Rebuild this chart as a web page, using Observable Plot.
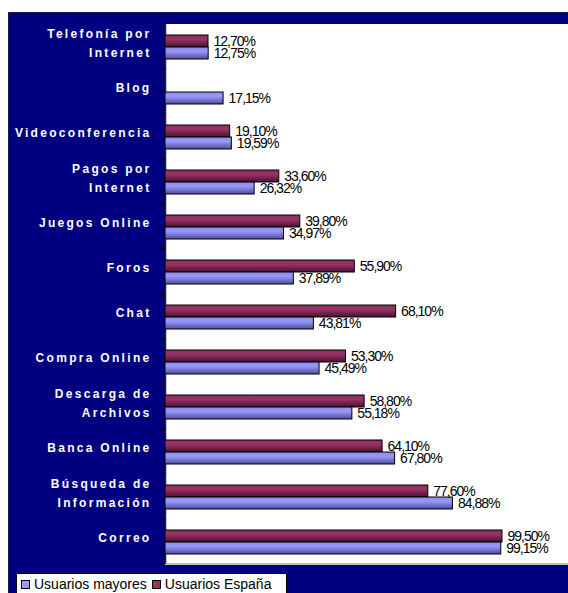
<!DOCTYPE html>
<html>
<head>
<meta charset="utf-8">
<script src="https://cdn.jsdelivr.net/npm/d3@7"></script>
<script src="https://cdn.jsdelivr.net/npm/@observablehq/plot@0.6"></script>
<style>
  html, body { margin: 0; padding: 0; background: #ffffff; }
  #page { position: relative; width: 568px; height: 593px; overflow: hidden; font-family: "Liberation Sans", Arial, sans-serif; }
  #navy { position: absolute; left: 8px; top: 12px; width: 560px; height: 581px; background: #000080; box-sizing: border-box; border-left: 1px solid #1a1a3a; border-top: 1px solid #1a1a3a; }
  #chart { position: absolute; left: -1px; top: -1px; }
  #legend { position: absolute; left: 16px; top: 573px; width: 271px; height: 30px; background: #fff; border: 1px solid #000; box-sizing: border-box; font-size: 14px; color: #000; display: flex; align-items: flex-start; padding: 2px 0 0 4px; white-space: nowrap; }
  .item { display: flex; align-items: center; margin-right: 5px; }
  .sw { width: 7px; height: 7px; border: 1px solid #000; margin-right: 4px; }
</style>
</head>
<body>
<div id="page">
  <div id="navy"><div id="chart"></div></div>
  <div id="legend"></div>
</div>
<script>
const categories = ["Telefonía por\nInternet", "Blog", "Videoconferencia", "Pagos por\nInternet", "Juegos Online", "Foros", "Chat", "Compra Online", "Descarga de\nArchivos", "Banca Online", "Búsqueda de\nInformación", "Correo"];
const usuariosEspana = [12.70, null, 19.10, 33.60, 39.80, 55.90, 68.10, 53.30, 58.80, 64.10, 77.60, 99.50];
const usuariosMayores = [12.75, 17.15, 19.59, 26.32, 34.97, 37.89, 43.81, 45.49, 55.18, 67.80, 84.88, 99.15];
const seriesNames = ["Usuarios España", "Usuarios mayores"];
const legendOrder = ["Usuarios mayores", "Usuarios España"];
const seriesColors = {"Usuarios España": "#993366", "Usuarios mayores": "#9999ff"};

const rowsEs = categories.map((c, i) => ({cat: c, serie: seriesNames[0], value: usuariosEspana[i]})).filter(d => d.value != null);
const rowsMa = categories.map((c, i) => ({cat: c, serie: seriesNames[1], value: usuariosMayores[i]})).filter(d => d.value != null);
const allRows = rowsEs.concat(rowsMa);
const fmt = v => d3.format(".2f")(v).replace(".", ",") + "%";

const chart = Plot.plot({
  width: 560,
  height: 556,
  marginTop: 10,
  marginBottom: 2,
  marginLeft: 157,
  marginRight: 0,
  style: {background: "transparent", fontFamily: "'Liberation Sans', Arial, sans-serif", overflow: "visible"},
  x: {domain: [0, 119], axis: null},
  y: {domain: seriesNames, paddingInner: 0, paddingOuter: 0.74, axis: null},
  fy: {domain: categories, padding: 0},
  marks: [
    Plot.frame({fill: "white", stroke: "white"}),
    Plot.ruleX([0], {stroke: "#222", strokeWidth: 1.5}),
    Plot.barX(rowsEs, {fy: "cat", y: "serie", x: "value", fill: seriesColors["Usuarios España"], stroke: "#000", strokeWidth: 1}),
    Plot.barX(rowsMa, {fy: "cat", y: "serie", x: "value", fill: seriesColors["Usuarios mayores"], stroke: "#000", strokeWidth: 1}),
    Plot.text(allRows, {fy: "cat", y: "serie", x: "value", text: d => fmt(d.value), textAnchor: "start", dx: 5, fontSize: 14, fill: "#000"}),
    Plot.axisFy({anchor: "left", tickSize: 0, tickPadding: 14, lineHeight: 1.6, fontSize: 12, fontWeight: "bold", color: "white", dy: -6, label: null})
  ]
});

document.getElementById("chart").appendChild(chart);

const svg = d3.select(chart);
// gradients
const defs = svg.insert("defs", ":first-child");
const gEs = defs.append("linearGradient").attr("id", "gEs").attr("x1", 0).attr("y1", 0).attr("x2", 0).attr("y2", 1);
gEs.append("stop").attr("offset", "0%").attr("stop-color", "#8a2e5c");
gEs.append("stop").attr("offset", "35%").attr("stop-color", "#993366");
gEs.append("stop").attr("offset", "100%").attr("stop-color", "#4a1030");
const gMa = defs.append("linearGradient").attr("id", "gMa").attr("x1", 0).attr("y1", 0).attr("x2", 0).attr("y2", 1);
gMa.append("stop").attr("offset", "0%").attr("stop-color", "#8a8ae6");
gMa.append("stop").attr("offset", "35%").attr("stop-color", "#9999ff");
gMa.append("stop").attr("offset", "100%").attr("stop-color", "#4d4d99");
svg.selectAll('[fill="#993366"]').attr("fill", "url(#gEs)");
svg.selectAll('[fill="#9999ff"]').attr("fill", "url(#gMa)");

svg.selectAll('g[aria-label="fy-axis tick label"] text').attr("letter-spacing", "2.3px").attr("font-weight", "bold");
svg.selectAll('g[aria-label="text"] text').attr("letter-spacing", "-1px");

// category boundary ticks from the fy scale
const fy = chart.scale("fy");
const x0 = chart.scale("x").apply(0);
const bounds = fy.domain.map(d => fy.apply(d)).concat([fy.apply(fy.domain[fy.domain.length - 1]) + fy.bandwidth]);
svg.append("g").selectAll("line").data(bounds).join("line")
  .attr("x1", x0 - 5).attr("x2", x0).attr("y1", d => d).attr("y2", d => d)
  .attr("stroke", "#000").attr("stroke-width", 1);
// bottom edge of plot area
svg.append("line").attr("x1", x0).attr("x2", 560).attr("y1", bounds[bounds.length - 1]).attr("y2", bounds[bounds.length - 1]).attr("stroke", "#888");

// legend
const leg = d3.select("#legend");
legendOrder.forEach(name => {
  const it = leg.append("div").attr("class", "item");
  it.append("div").attr("class", "sw").style("background", seriesColors[name]);
  it.append("span").text(name);
});
</script>
</body>
</html>
